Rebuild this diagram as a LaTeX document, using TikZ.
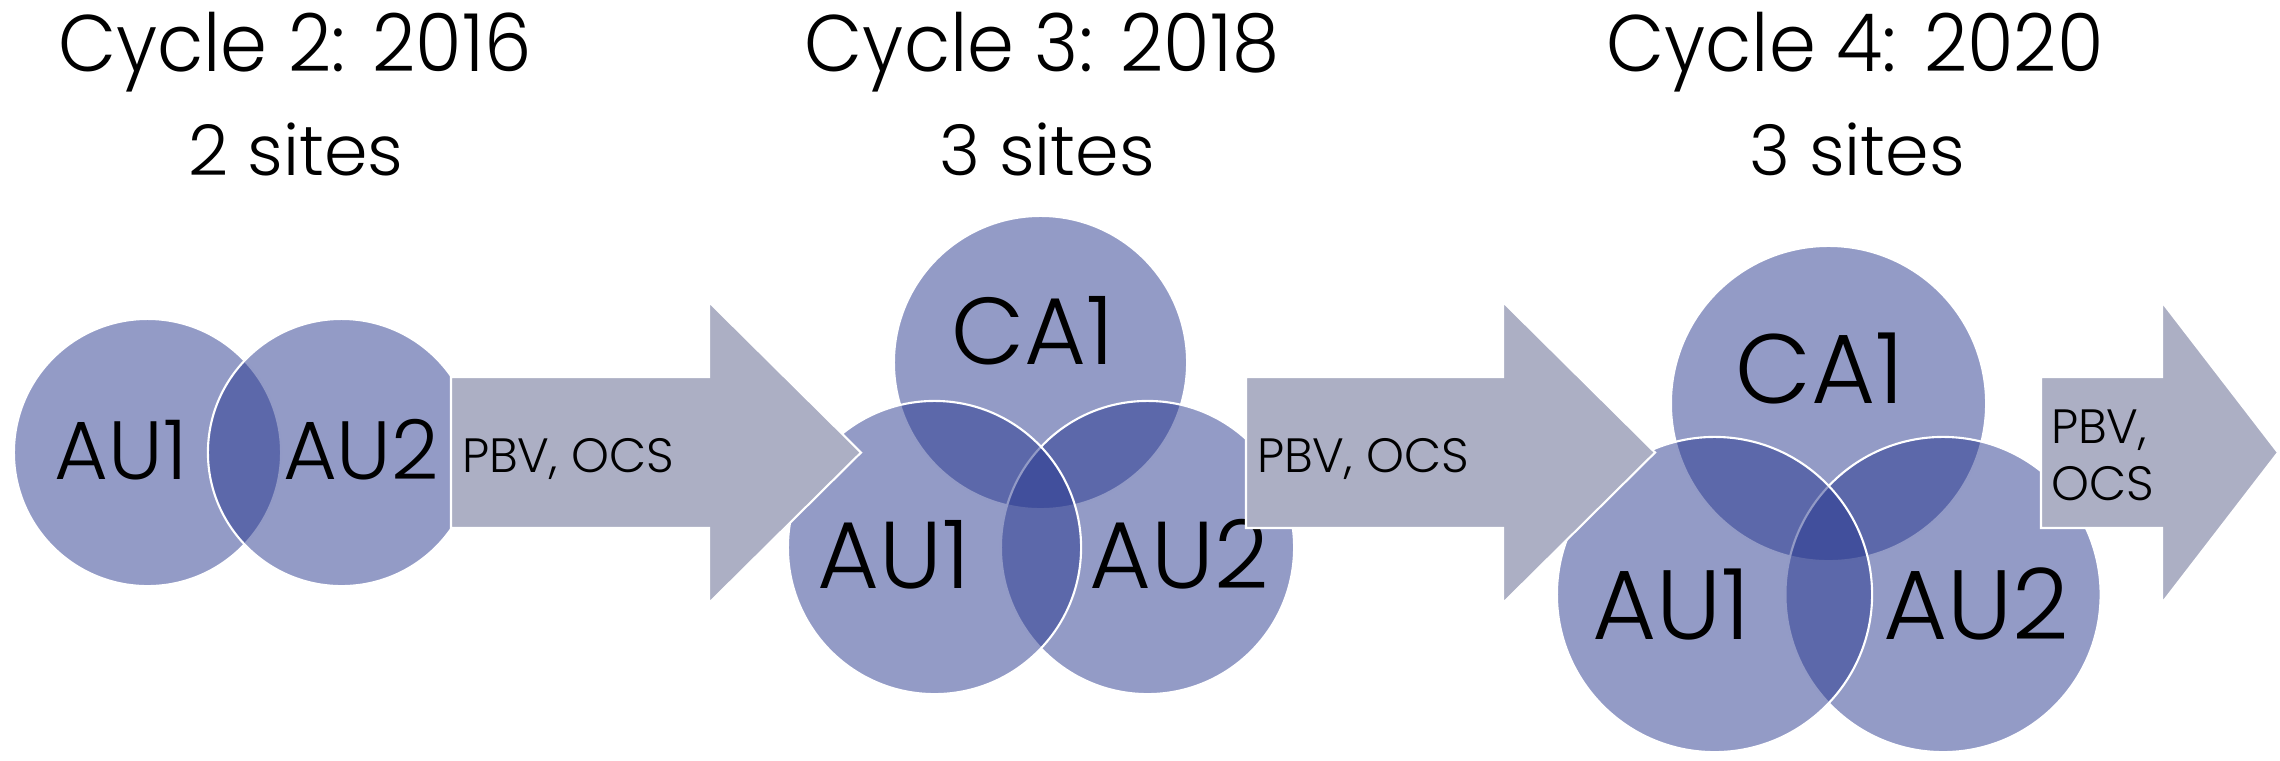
\documentclass[tikz,border=0pt]{standalone}
\usepackage{fontspec}
\setmainfont{Poppins Light}
\newfontfamily\headfont{Poppins Light}[FakeStretch=0.94]
\definecolor{venn}{RGB}{39,55,142}
\definecolor{flow}{RGB}{172,175,196}
\begin{document}
\begin{tikzpicture}[x=0.01cm,y=-0.01cm,
  site/.style={circle, fill=venn, fill opacity=0.5, draw=white, draw opacity=1,
               line width=0.6pt, inner sep=0pt, outer sep=0pt},
  site2/.style={site, minimum size=2.67cm},
  site3/.style={site, minimum size=2.93cm},
  site4/.style={site, minimum size=3.15cm},
  txt/.style={inner sep=0pt, outer sep=0pt, anchor=base, text=black},
  title/.style={txt, font=\headfont\fontsize{22.8}{27}\selectfont},
  sub/.style={txt, font=\fontsize{19.9}{24}\selectfont},
  lab2/.style={txt, font=\fontsize{23.5}{27}\selectfont},
  lab3/.style={txt, font=\fontsize{27}{31}\selectfont},
  lab4/.style={txt, font=\fontsize{28}{32}\selectfont},
  flowtxt/.style={txt, anchor=base west, font=\fontsize{13.7}{16}\selectfont},
  band/.style={fill=flow, draw=white, line width=0.6pt, line join=miter}]
\useasboundingbox (0,0) rectangle (2280,760);

% headings
\node[title] (t2) at (295,71) {Cycle 2: 2016};
\node[sub]   (s2) at (296,175) {2 sites};
\node[title] (t3) at (1042,71) {Cycle 3: 2018};
\node[sub]   (s3) at (1047,175) {3 sites};
\node[title] (t4) at (1855,71) {Cycle 4: 2020};
\node[sub]   (s4) at (1857,175) {3 sites};

% cycle 2: two overlapping sites
\node[site2] (c2a) at (147.5,452.5) {};
\node[site2] (c2b) at (341.5,452.5) {};

% cycle 3: three overlapping sites
\node[site3] (c3c) at (1040.5,362.5) {};
\node[site3] (c3b) at (1147.5,547.5) {};
\node[site3] (c3a) at (934.5,547.5) {};

% cycle 4: three overlapping sites
\node[site4] (c4c) at (1828.5,403.5) {};
\node[site4] (c4b) at (1943,594.5) {};
\node[site4] (c4a) at (1714.5,594.5) {};

% site names
\node[lab2] (l2a) at (121,479) {AU1};
\node[lab2] (l2b) at (361,479) {AU2};
\node[lab3] (l3c) at (1033,364) {CA1};
\node[lab3] (l3a) at (894,588) {AU1};
\node[lab3] (l3b) at (1179,588) {AU2};
\node[lab4] (l4c) at (1820,403) {CA1};
\node[lab4] (l4a) at (1671,639) {AU1};
\node[lab4] (l4b) at (1976,639) {AU2};

% block arrows between cycles
\draw[band] (451,377) -- (709,377) -- (709,302) -- (861,452.5) -- (709,603)
            -- (709,528) -- (451,528) -- cycle;
\draw[band] (1246,377) -- (1503,377) -- (1503,302) -- (1655,452.5) -- (1503,603)
            -- (1503,528) -- (1246,528) -- cycle;
\draw[band] (2041,377) -- (2162,377) -- (2162,302) -- (2278,452.5) -- (2162,603)
            -- (2162,528) -- (2041,528) -- cycle;

\node[flowtxt] (f1) at (462,472) {PBV, OCS};
\node[flowtxt] (f2) at (1257,472) {PBV, OCS};
\node[flowtxt] (f3a) at (2051,443) {PBV,};
\node[flowtxt] (f3b) at (2051,500) {OCS};
\end{tikzpicture}
\end{document}
